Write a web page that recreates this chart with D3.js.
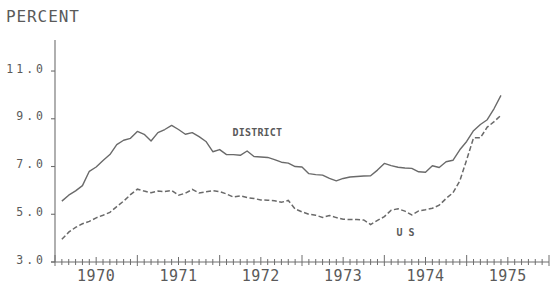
<!DOCTYPE html>
<html>
<head>
<meta charset="utf-8">
<script src="https://cdn.jsdelivr.net/npm/d3@7"></script>
<style>
  html, body { margin: 0; padding: 0; background: #fff; }
  svg { display: block; }
  text { font-family: "DejaVu Sans Mono", "Liberation Mono", monospace; fill: #5a5a5a; }
</style>
</head>
<body>
<svg id="chart" width="552" height="285"></svg>
<script>
// Monthly data, Jan 1970 – May 1975
const startYear = 1970;
const district = [
  5.55, 5.80, 5.98, 6.20, 6.80, 6.98, 7.25, 7.50, 7.92, 8.10, 8.18, 8.47,
  8.35, 8.07, 8.42, 8.55, 8.72, 8.55, 8.35, 8.42, 8.25, 8.05, 7.62, 7.71,
  7.50, 7.50, 7.47, 7.65, 7.42, 7.40, 7.38, 7.29, 7.18, 7.14, 7.00, 6.98,
  6.70, 6.66, 6.64, 6.50, 6.40, 6.50, 6.56, 6.58, 6.60, 6.61, 6.85, 7.13,
  7.04, 6.97, 6.94, 6.92, 6.78, 6.76, 7.03, 6.96, 7.20, 7.26, 7.70, 8.05,
  8.50, 8.76, 8.96, 9.43, 9.98
];
const us = [
  3.95, 4.25, 4.45, 4.60, 4.70, 4.85, 4.96, 5.08, 5.32, 5.55, 5.82, 6.05,
  5.97, 5.90, 5.97, 5.95, 6.00, 5.80, 5.88, 6.04, 5.89, 5.94, 5.99, 5.95,
  5.85, 5.72, 5.77, 5.70, 5.66, 5.60, 5.59, 5.57, 5.50, 5.58, 5.22, 5.10,
  5.00, 4.96, 4.87, 4.95, 4.86, 4.79, 4.78, 4.78, 4.76, 4.57, 4.74, 4.90,
  5.17, 5.23, 5.13, 4.97, 5.14, 5.19, 5.25, 5.38, 5.66, 5.90, 6.40, 7.28,
  8.20, 8.20, 8.65, 8.88, 9.15
];
const yearLabels = ["1970", "1971", "1972", "1973", "1974", "1975"];
const yTicks = [3, 5, 7, 9, 11];
const yTickLabels = ["3.0", "5.0", "7.0", "9.0", "11.0"];
const seriesLabels = ["DISTRICT", "U S"];
const yTitle = "PERCENT";

const svg = d3.select("#chart");
const ink = "#6e6e6e";

const x = d3.scaleLinear().domain([0, 72]).range([55, 549]);
const y = d3.scaleLinear().domain([3, 12.3]).range([262, 40]);

// axes lines
svg.append("line").attr("x1", x(0)).attr("x2", x(0)).attr("y1", y(12.3)).attr("y2", y(3))
  .attr("stroke", ink).attr("stroke-width", 1.1);
svg.append("line").attr("x1", x(0) - 4).attr("x2", x(72)).attr("y1", y(3)).attr("y2", y(3))
  .attr("stroke", ink).attr("stroke-width", 1.1);

// y ticks & labels
svg.selectAll(".ytick").data(yTicks).join("line")
  .attr("x1", x(0) - 4).attr("x2", x(0)).attr("y1", d => y(d)).attr("y2", d => y(d))
  .attr("stroke", ink).attr("stroke-width", 1.1);
svg.selectAll(".ylab").data(yTicks).join("text")
  .attr("x", 46).attr("y", d => y(d) + 1.7)
  .attr("text-anchor", "end")
  .attr("font-size", 11.5).attr("letter-spacing", 3)
  .text((d, i) => yTickLabels[i]);

// x ticks (monthly, mid-year, year)
const months = d3.range(0, 73);
svg.selectAll(".xtick").data(months).join("line")
  .attr("x1", d => x(d)).attr("x2", d => x(d))
  .attr("y1", d => d % 12 === 0 ? y(3) - 7 : (d % 6 === 0 ? y(3) - 5 : y(3) - 3))
  .attr("y2", d => d % 12 === 0 ? y(3) + 4 : y(3) + 3)
  .attr("stroke", ink).attr("stroke-width", 1);

svg.selectAll(".xlab").data(yearLabels).join("text")
  .attr("x", (d, i) => x(i * 12 + 6))
  .attr("y", 281)
  .attr("text-anchor", "middle")
  .attr("font-size", 15)
  .attr("letter-spacing", 0.5)
  .text(d => d);

// title
svg.append("text").attr("x", 6).attr("y", 21.5)
  .attr("font-size", 16).attr("letter-spacing", 0.9).text(yTitle);

// lines
const line = d3.line().x((d, i) => x(i + 1)).y(d => y(d));
svg.append("path").datum(district).attr("d", line)
  .attr("fill", "none").attr("stroke", "#6a6a6a").attr("stroke-width", 1.4)
  .attr("stroke-linejoin", "round");
svg.append("path").datum(us).attr("d", line)
  .attr("fill", "none").attr("stroke", "#6a6a6a").attr("stroke-width", 1.5)
  .attr("stroke-dasharray", "5,2.5");

// series labels
svg.append("text").attr("x", 232.5).attr("y", 135.7)
  .attr("font-size", 10).attr("font-weight", "bold").attr("letter-spacing", 0.2)
  .text(seriesLabels[0]);
svg.append("text").attr("x", 396.5).attr("y", 236)
  .attr("font-size", 10).attr("font-weight", "bold")
  .text(seriesLabels[1]);
</script>
</body>
</html>
